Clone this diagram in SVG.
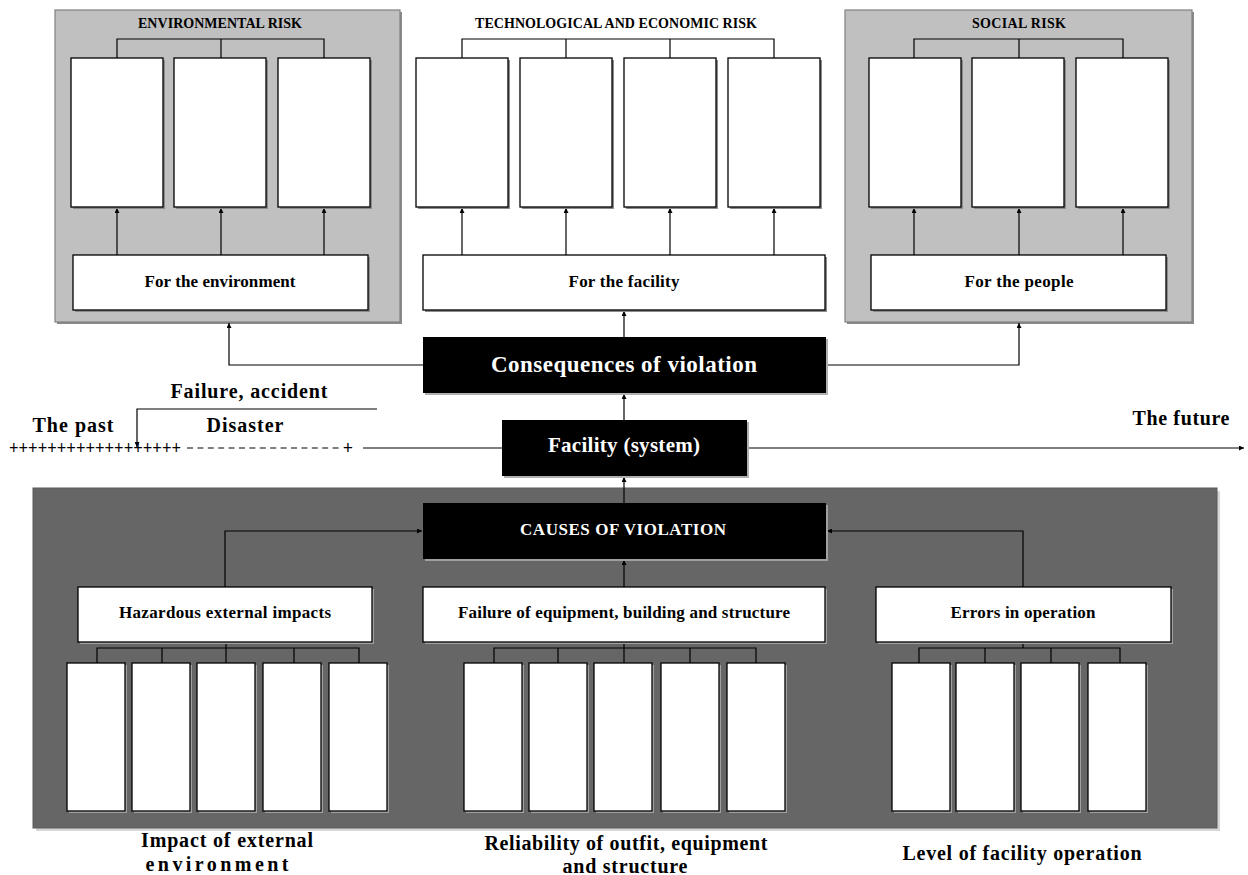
<svg xmlns="http://www.w3.org/2000/svg" width="1248" height="875" viewBox="0 0 1248 875">
<defs>
<style>
.bg{fill:#fff}
.panel{fill:#c0c0c0;stroke:#808080;stroke-width:1.2}
.pshadow{fill:#8a8a8a}
.dark{fill:#666;stroke:#5a5a5a;stroke-width:1}
.dshadow{fill:#d6d6d6}
.wb{fill:#fff;stroke:#000;stroke-width:1.3}
.sh{fill:#8c8c8c}
.shl{fill:#a0a0a0}
.blk{fill:#000}
.bsh{fill:#b0b0b0}
.ln{fill:none;stroke:#000;stroke-width:1.2}
.t{font-family:"Liberation Serif","Times New Roman",serif;font-weight:bold;text-anchor:middle;fill:#000}
.w{fill:#fff}
</style>
<marker id="ah" viewBox="0 0 6 6" refX="6" refY="3" markerWidth="5" markerHeight="5" orient="auto" markerUnits="userSpaceOnUse"><path d="M0,0 L6,3 L0,6z" fill="#000"/></marker>
</defs>
<rect class="bg" x="0" y="0" width="1248" height="875"/>

<g id="panel-environmental">
<rect class="pshadow" x="57" y="12" width="345" height="312"/>
<rect class="panel" x="55" y="10" width="345" height="312"/>
<text class="t" x="220" y="28" font-size="14" textLength="164">ENVIRONMENTAL RISK</text>
</g>
<g id="panel-technological">
<text class="t" x="616" y="28" font-size="14" textLength="282">TECHNOLOGICAL AND ECONOMIC RISK</text>
</g>
<g id="panel-social">
<rect class="pshadow" x="847" y="12" width="347" height="312"/>
<rect class="panel" x="845" y="10" width="347" height="312"/>
<text class="t" x="1019" y="28" font-size="14" textLength="94">SOCIAL RISK</text>
</g>
<g id="panel-causes">
<rect class="dshadow" x="36" y="491" width="1184" height="340"/>
<rect class="dark" x="33" y="488" width="1184" height="340"/>
</g>

<g id="connectors" class="ln">
<path d="M117,58 V39 H324 V58 M221,39 V58"/>
<path d="M117,255 V208" marker-end="url(#ah)"/>
<path d="M221,255 V208" marker-end="url(#ah)"/>
<path d="M324,255 V208" marker-end="url(#ah)"/>
<path d="M462,58 V39 H774 V58 M566,39 V58 M670,39 V58"/>
<path d="M462,255 V208" marker-end="url(#ah)"/>
<path d="M566,255 V208" marker-end="url(#ah)"/>
<path d="M670,255 V208" marker-end="url(#ah)"/>
<path d="M774,255 V208" marker-end="url(#ah)"/>
<path d="M914,58 V39 H1123 V58 M1019,39 V58"/>
<path d="M914,255 V208" marker-end="url(#ah)"/>
<path d="M1019,255 V208" marker-end="url(#ah)"/>
<path d="M1123,255 V208" marker-end="url(#ah)"/>
<path d="M624,337 V311" marker-end="url(#ah)"/>
<path d="M423,365 H229 V323" marker-end="url(#ah)"/>
<path d="M826,365 H1019 V323" marker-end="url(#ah)"/>
<path d="M624,420 V394" marker-end="url(#ah)"/>
<path d="M624,503 V477" marker-end="url(#ah)"/>
<path d="M363,448 H502"/>
<path d="M747,448 H1244" marker-end="url(#ah)"/>
<path d="M377,409 H137 V447" marker-end="url(#ah)"/>
<path d="M187,448 H343" stroke-dasharray="6 4.4"/>
<path d="M225,587 V531 H422" marker-end="url(#ah)"/>
<path d="M1023,587 V531 H827" marker-end="url(#ah)"/>
<path d="M624,587 V560" marker-end="url(#ah)"/>
<path d="M226,642 V648 M97,663 V648 H359 V663 M162,648 V663 M226,648 V663 M294,648 V663"/>
<path d="M624,642 V648 M494,663 V648 H756 V663 M558,648 V663 M624,648 V663 M690,648 V663"/>
<path d="M1023,642 V648 M919,663 V648 H1120 V663 M985,648 V663 M1051,648 V663"/>
</g>

<g id="timeline-labels">
<text class="t" x="95" y="454" font-size="18" textLength="172" lengthAdjust="spacingAndGlyphs">++++++++++++++++++</text>
<text class="t" x="348" y="454" font-size="18">+</text>
<text class="t" x="73" y="432" font-size="20" textLength="81">The past</text>
<text class="t" x="249" y="398" font-size="20" textLength="157">Failure, accident</text>
<text class="t" x="245" y="432" font-size="20" textLength="77">Disaster</text>
<text class="t" x="1181" y="425" font-size="20" textLength="97">The future</text>
</g>

<g id="env-boxes">
<rect class="sh" x="73" y="60" width="92" height="149"/><rect class="wb" x="71" y="58" width="92" height="149"/>
<rect class="sh" x="176" y="60" width="92" height="149"/><rect class="wb" x="174" y="58" width="92" height="149"/>
<rect class="sh" x="280" y="60" width="92" height="149"/><rect class="wb" x="278" y="58" width="92" height="149"/>
</g>
<g id="for-environment">
<rect class="sh" x="75" y="257" width="295" height="55"/><rect class="wb" x="73" y="255" width="295" height="55"/>
<text class="t" x="220" y="287" font-size="17" textLength="151">For the environment</text>
</g>
<g id="tech-boxes">
<rect class="sh" x="418" y="60" width="92" height="149"/><rect class="wb" x="416" y="58" width="92" height="149"/>
<rect class="sh" x="522" y="60" width="92" height="149"/><rect class="wb" x="520" y="58" width="92" height="149"/>
<rect class="sh" x="626" y="60" width="92" height="149"/><rect class="wb" x="624" y="58" width="92" height="149"/>
<rect class="sh" x="730" y="60" width="92" height="149"/><rect class="wb" x="728" y="58" width="92" height="149"/>
</g>
<g id="for-facility">
<rect class="sh" x="425" y="257" width="402" height="55"/><rect class="wb" x="423" y="255" width="402" height="55"/>
<text class="t" x="624" y="287" font-size="17" textLength="111">For the facility</text>
</g>
<g id="social-boxes">
<rect class="sh" x="871" y="60" width="92" height="149"/><rect class="wb" x="869" y="58" width="92" height="149"/>
<rect class="sh" x="974" y="60" width="92" height="149"/><rect class="wb" x="972" y="58" width="92" height="149"/>
<rect class="sh" x="1078" y="60" width="92" height="149"/><rect class="wb" x="1076" y="58" width="92" height="149"/>
</g>
<g id="for-people">
<rect class="sh" x="873" y="257" width="295" height="55"/><rect class="wb" x="871" y="255" width="295" height="55"/>
<text class="t" x="1019" y="287" font-size="17" textLength="109">For the people</text>
</g>

<g id="consequences">
<rect class="bsh" x="425" y="339" width="403" height="56"/>
<rect class="blk" x="423" y="337" width="403" height="56"/>
<text class="t w" x="624" y="372" font-size="23" textLength="266">Consequences of violation</text>
</g>
<g id="facility">
<rect class="bsh" x="504" y="422" width="245" height="56"/>
<rect class="blk" x="502" y="420" width="245" height="56"/>
<text class="t w" x="624" y="452" font-size="21" textLength="152">Facility (system)</text>
</g>
<g id="causes">
<rect class="shl" x="425" y="505" width="403" height="56"/>
<rect class="blk" x="423" y="503" width="403" height="56"/>
<text class="t w" x="623" y="535" font-size="17" textLength="206">CAUSES OF VIOLATION</text>
</g>

<g id="hazardous">
<rect class="shl" x="80" y="589" width="294" height="55"/><rect class="wb" x="78" y="587" width="294" height="55"/>
<text class="t" x="225" y="618" font-size="17" textLength="212">Hazardous external impacts</text>
</g>
<g id="failure">
<rect class="shl" x="425" y="589" width="402" height="55"/><rect class="wb" x="423" y="587" width="402" height="55"/>
<text class="t" x="624" y="618" font-size="17" textLength="332">Failure of equipment, building and structure</text>
</g>
<g id="errors">
<rect class="shl" x="878" y="589" width="295" height="55"/><rect class="wb" x="876" y="587" width="295" height="55"/>
<text class="t" x="1023" y="618" font-size="17" textLength="145">Errors in operation</text>
</g>

<g id="hazardous-boxes">
<rect class="shl" x="69" y="665" width="58" height="148"/><rect class="wb" x="67" y="663" width="58" height="148"/>
<rect class="shl" x="134" y="665" width="58" height="148"/><rect class="wb" x="132" y="663" width="58" height="148"/>
<rect class="shl" x="199" y="665" width="58" height="148"/><rect class="wb" x="197" y="663" width="58" height="148"/>
<rect class="shl" x="265" y="665" width="58" height="148"/><rect class="wb" x="263" y="663" width="58" height="148"/>
<rect class="shl" x="331" y="665" width="58" height="148"/><rect class="wb" x="329" y="663" width="58" height="148"/>
</g>
<g id="failure-boxes">
<rect class="shl" x="466" y="665" width="58" height="148"/><rect class="wb" x="464" y="663" width="58" height="148"/>
<rect class="shl" x="531" y="665" width="58" height="148"/><rect class="wb" x="529" y="663" width="58" height="148"/>
<rect class="shl" x="596" y="665" width="58" height="148"/><rect class="wb" x="594" y="663" width="58" height="148"/>
<rect class="shl" x="663" y="665" width="58" height="148"/><rect class="wb" x="661" y="663" width="58" height="148"/>
<rect class="shl" x="729" y="665" width="58" height="148"/><rect class="wb" x="727" y="663" width="58" height="148"/>
</g>
<g id="errors-boxes">
<rect class="shl" x="894" y="665" width="58" height="148"/><rect class="wb" x="892" y="663" width="58" height="148"/>
<rect class="shl" x="958" y="665" width="58" height="148"/><rect class="wb" x="956" y="663" width="58" height="148"/>
<rect class="shl" x="1023" y="665" width="58" height="148"/><rect class="wb" x="1021" y="663" width="58" height="148"/>
<rect class="shl" x="1090" y="665" width="58" height="148"/><rect class="wb" x="1088" y="663" width="58" height="148"/>
</g>

<g id="bottom-labels">
<text class="t" x="227" y="847" font-size="20" textLength="172">Impact of external</text>
<text class="t" x="217" y="871" font-size="20" textLength="143">environment</text>
<text class="t" x="626" y="850" font-size="20" textLength="283">Reliability of outfit, equipment</text>
<text class="t" x="625" y="873" font-size="20" textLength="125">and structure</text>
<text class="t" x="1022" y="860" font-size="20" textLength="239">Level of facility operation</text>
</g>
</svg>
